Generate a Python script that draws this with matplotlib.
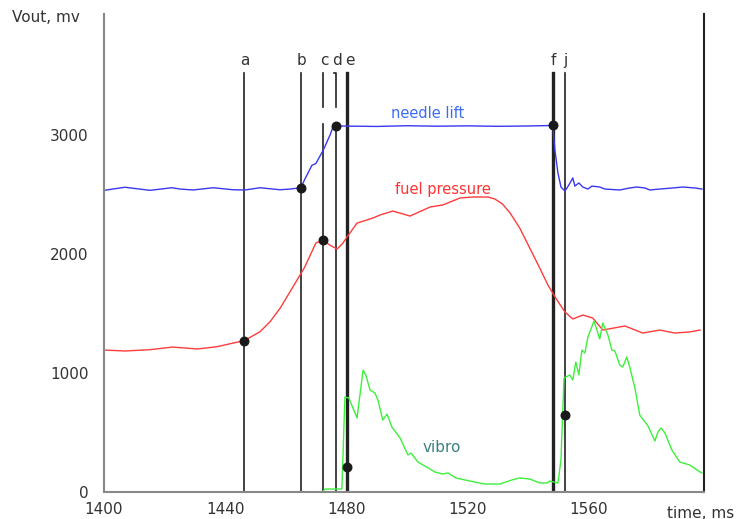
import matplotlib
matplotlib.use("Agg")
import matplotlib.pyplot as plt

plt.rcParams['font.family'] = ['DejaVu Sans']

# needle lift (blue)
lift_t = [1400.0, 1406.9, 1415.2, 1422.4, 1425.1, 1429.4, 1436.0, 1442.6, 1446.5, 1451.5,
          1458.1, 1461.4, 1465.0, 1466.3, 1468.6, 1469.9, 1472.3, 1474.6, 1475.6, 1476.6,
          1490.0, 1500.0, 1510.0, 1520.0, 1530.0, 1540.0, 1548.1, 1548.8, 1549.8, 1550.8,
          1552.1, 1553.4, 1554.7, 1555.4, 1556.7, 1558.0, 1559.7, 1561.0, 1563.6, 1565.3,
          1570.2, 1573.5, 1575.8, 1578.5, 1580.1, 1583.4, 1587.7, 1591.0, 1595.0, 1597.3]
lift_v = [2535, 2561, 2535, 2557, 2546, 2538, 2557, 2540, 2538, 2557,
          2540, 2546, 2557, 2630, 2745, 2760, 2870, 3000, 3070, 3076,
          3072, 3078, 3074, 3077, 3073, 3076, 3080, 2874, 2681, 2563,
          2529, 2580, 2639, 2571, 2597, 2563, 2546, 2571, 2563, 2546,
          2538, 2555, 2563, 2555, 2538, 2546, 2555, 2563, 2555, 2546]

# fuel pressure (red)
fuel_t = [1400.0, 1406.9, 1415.2, 1422.6, 1430.8, 1437.3, 1442.3, 1446.2, 1451.5, 1454.8,
          1458.1, 1461.4, 1464.7, 1466.3, 1469.9, 1472.3, 1474.5, 1476.9, 1478.8, 1480.2,
          1483.5, 1488.7, 1491.1, 1495.3, 1501.0, 1507.6, 1511.8, 1517.5, 1521.7, 1526.7,
          1529.0, 1531.5, 1534.0, 1537.2, 1540.5, 1543.8, 1546.5, 1549.5, 1552.1, 1554.7,
          1558.0, 1561.3, 1564.6, 1571.9, 1577.8, 1583.4, 1588.4, 1593.3, 1596.7]
fuel_v = [1193, 1185, 1196, 1218, 1202, 1221, 1250, 1271, 1347, 1431,
          1544, 1683, 1824, 1893, 2092, 2118, 2075, 2042, 2090, 2143,
          2260, 2302, 2328, 2361, 2319, 2395, 2412, 2471, 2479, 2479,
          2462, 2420, 2345, 2218, 2050, 1882, 1739, 1613, 1513, 1454,
          1487, 1462, 1361, 1395, 1336, 1361, 1336, 1345, 1361]

# vibro (green)
vib_t = [1400.0, 1472.0, 1473.0, 1478.5, 1479.5, 1480.8, 1483.5, 1485.5, 1486.4, 1487.8,
         1489.4, 1490.4, 1492.0, 1493.4, 1495.0, 1497.7, 1500.3, 1501.3, 1503.6, 1507.6,
         1509.2, 1511.8, 1513.5, 1516.1, 1520.8, 1525.7, 1530.7, 1534.6, 1537.2, 1540.5,
         1543.8, 1546.2, 1547.1, 1549.8, 1550.8, 1551.8, 1553.7, 1554.7, 1555.7, 1556.7,
         1557.7, 1558.7, 1559.7, 1561.7, 1563.6, 1564.6, 1566.3, 1567.6, 1568.6, 1570.2,
         1571.2, 1572.5, 1573.5, 1575.2, 1576.8, 1579.5, 1581.8, 1582.8, 1583.8, 1585.1,
         1587.4, 1590.0, 1593.3, 1596.7, 1597.3]
vib_v = [0, 0, 25, 25, 798, 790, 622, 1025, 983, 857,
         832, 773, 605, 655, 546, 454, 311, 328, 252, 193,
         168, 151, 160, 118, 92, 67, 67, 101, 118, 109,
         76, 76, 92, 76, 270, 958, 983, 941, 1092, 983,
         1193, 1168, 1303, 1437, 1286, 1420, 1319, 1193, 1185, 1067,
         1050, 1134, 1050, 874, 647, 555, 429, 504, 538, 496,
         353, 252, 227, 168, 160]

# event markers
mark_names = ['a', 'b', 'c', 'd', 'e', 'f', 'j']
mark_t = [1446.2, 1465.0, 1472.4, 1476.6, 1480.2, 1548.1, 1552.1]
mark_v = [1271, 2557, 2118, 3076, 210, 3080, 647]

x_ticks = [1400, 1440, 1480, 1520, 1560]
y_ticks = [0, 1000, 2000, 3000]

fig = plt.figure(figsize=(7.42, 5.19), dpi=100)
ax = fig.add_axes([104 / 742, 27 / 519, 600 / 742, 478 / 519])
ax.set_xlim(1400, 1598)
ax.set_ylim(0, 4017)

top = 3521
lw = {'e': 2.4, 'f': 2.4}
for name, t in zip(mark_names, mark_t):
    w = lw.get(name, 1.2)
    if name == 'c':
        ax.plot([t, t], [0, 3092], color='#222222', lw=w)
        ax.plot([t, t], [3235, top], color='#222222', lw=w)
    elif name == 'd':
        ax.plot([t, t], [0, 3076], color='#222222', lw=w)
        ax.plot([t - 0.6, t, t], [top, top, 3235], color='#222222', lw=w)
    else:
        ax.plot([t, t], [0, top], color='#222222', lw=w)
    ax.text(t + (1.0 if name == 'e' else 0.2), 3625, name, ha='center', va='center',
            fontsize=11, color='#333333')

ax.plot([1598, 1598], [0, 4017], color='#222222', lw=1.5, clip_on=False)

ax.plot(fuel_t, fuel_v, color='#ff3b3b', lw=1.0)
ax.plot(lift_t, lift_v, color='#3838f0', lw=1.0)
ax.plot(vib_t, vib_v, color='#3cf03c', lw=1.0)

ax.scatter(mark_t, mark_v, s=38, color='#1a1a1a', zorder=5)

ax.text(1506.9, 3185, 'needle lift', color='#3b6cf5', fontsize=10.5, ha='center', va='center')
ax.text(1511.8, 2538, 'fuel pressure', color='#ff3333', fontsize=10.5, ha='center', va='center')
ax.text(1511.5, 378, 'vibro', color='#3d7f80', fontsize=11, ha='center', va='center')

for s in ['top', 'right']:
    ax.spines[s].set_visible(False)
for s in ['left', 'bottom']:
    ax.spines[s].set_color('#888888')
    ax.spines[s].set_linewidth(1.5)

ax.set_xticks(x_ticks)
ax.set_yticks(y_ticks)
ax.tick_params(length=0, labelsize=11, colors='#333333', pad=7)
ax.tick_params(axis='y', pad=11)

fig.text(12 / 742, 1 - 17 / 519, 'Vout, mv', fontsize=11, color='#333333', va='center')
fig.text(734 / 742, 1 - 513 / 519, 'time, ms', fontsize=11, color='#333333',
         va='center', ha='right')

fig.savefig('out.png', dpi=100)
